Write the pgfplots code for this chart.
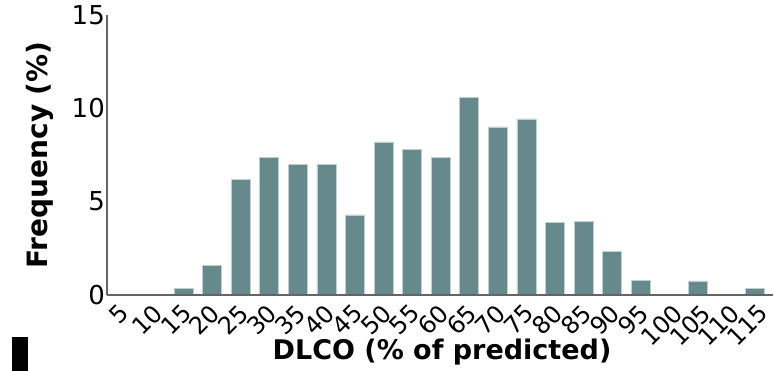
\documentclass[border=0pt]{standalone}
\usepackage{fontspec}
\setmainfont{DejaVu Sans}
\usepackage{graphicx}
\usepackage{pgfplots}
\pgfplotsset{compat=1.18}
\definecolor{barfill}{RGB}{102,137,140}
\definecolor{baredge}{RGB}{190,208,208}
\definecolor{axisgray}{RGB}{100,100,100}
\newcommand\rl[1]{\rotatebox{45}{#1}}
\begin{document}
\begin{tikzpicture}[x=1pt,y=1pt]
\path[use as bounding box] (0,0) rectangle (774,-371);
\begin{axis}[
  at={(107pt,-295pt)}, anchor=south west,
  scale only axis,
  width=666pt, height=280pt,
  xmin=-0.677, xmax=22.63,
  ymin=0, ymax=15,
  axis lines*=left,
  axis on top,
  axis line style={axisgray, line width=2pt},
  major tick length=0pt,
  xtick={0,...,22},
  xticklabels={\rl{5},\rl{10},\rl{15},\rl{20},\rl{25},\rl{30},\rl{35},\rl{40},\rl{45},\rl{50},\rl{55},\rl{60},\rl{65},\rl{70},\rl{75},\rl{80},\rl{85},\rl{90},\rl{95},\rl{100},\rl{105},\rl{110},\rl{115}},
  ytick={0,5,10,15},
  /pgf/number format/assume math mode=true,
  yticklabel style={font=\fontsize{26}{28}\selectfont, anchor=east, inner sep=2pt},
  xticklabel style={font=\fontsize{24}{26}\selectfont, anchor=north, inner sep=0pt, xshift=-7.5pt, yshift=-7.5pt},
  xlabel={\textbf{DLCO (\% of predicted)}},
  ylabel={\textbf{Frequency (\%)}},
  xlabel style={font=\fontsize{27}{29}\selectfont, at={(axis description cs:0.503,-0.2036)}, anchor=center},
  ylabel style={font=\fontsize{28}{30}\selectfont, at={(axis description cs:-0.1006,0.5)}, anchor=center},
  clip=false,
]
\addplot[ybar, bar width=0.665, fill=barfill, draw=baredge, line width=0.6pt] coordinates {
(0,0) (1,0) (2,0.36) (3,1.57) (4,6.18) (5,7.39) (6,7.0) (7,7.0) (8,4.29) (9,8.2)
(10,7.79) (11,7.39) (12,10.59) (13,9.0) (14,9.43) (15,3.89) (16,3.95) (17,2.34)
(18,0.80) (19,0) (20,0.75) (21,0) (22,0.36)
};
\end{axis}
\fill[black] (12.3,-337.3) rectangle (28.3,-371);
\end{tikzpicture}
\end{document}
